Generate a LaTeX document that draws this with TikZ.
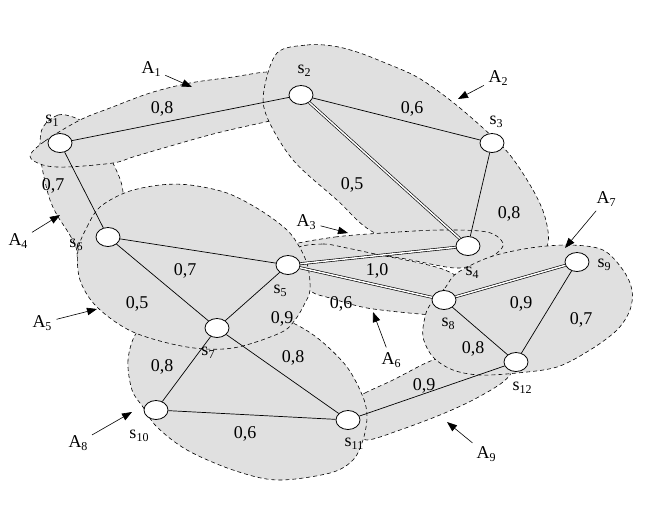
\documentclass[tikz,border=0pt]{standalone}
\usepackage{fontspec}
\setmainfont{Liberation Serif}
\usetikzlibrary{shapes.geometric,arrows.meta}
\newcommand\subsc[1]{\raisebox{-3.5pt}{\fontsize{12}{12}\selectfont #1}}
\begin{document}
\begin{tikzpicture}[x=1pt,y=-1pt,
  vtx/.style={ellipse,draw,fill=white,line width=0.8pt,minimum width=24pt,minimum height=19pt,inner sep=0pt},
  region/.style={draw,dash pattern=on 4pt off 3pt,fill=black!12,line width=0.6pt},
  edge/.style={line width=0.7pt},
  dedge/.style={double,double distance=1.5pt,line width=0.65pt},
  wlab/.style={font=\fontsize{18}{20}\selectfont,inner sep=0pt},
  slab/.style={font=\fontsize{18}{20}\selectfont,inner sep=0pt},
  aarrow/.style={line width=0.6pt,shorten <=5pt,-{Triangle[length=10pt,width=7.5pt]}}]
\useasboundingbox (0,0) rectangle (648,515);
% regions
\path[region] plot[smooth cycle,tension=0.55] coordinates {(43,127) (58,115) (73,117) (84,123) (100,140) (113,163) (123,192) (118,235) (98,262) (80,268) (76,247) (68,232) (57,215) (49,197) (42,167) (40,145)};
\path[region] plot[smooth cycle,tension=0.55] coordinates {(30,156) (45,141) (80,120) (110,108) (150,93) (190,83) (233,77) (267,72) (285,76) (292,100) (285,118) (270,121) (217,133) (167,147) (133,157) (113,163) (67,167) (43,165)};
\path[region] plot[smooth cycle,tension=0.55] coordinates {(277,53) (307,45) (333,46) (357,52) (383,62) (417,77) (450,100) (483,128) (510,155) (533,190) (545,217) (548,243) (535,262) (490,262) (430,250) (373,232) (337,200) (293,160) (267,117) (264,90)};
\path[region] plot[smooth cycle,tension=0.55] coordinates {(290,245) (335,237) (383,233) (440,230) (487,232) (503,243) (497,253) (480,262) (455,268) (400,258) (340,250) (295,250)};
\path[region] plot[smooth cycle,tension=0.5] coordinates {(296,249) (323,244) (347,248) (380,255) (420,263) (445,270) (460,280) (460,300) (440,314) (420,314) (367,308) (330,298) (312,292) (297,275)};
\path[region] plot[smooth cycle,tension=0.5] coordinates {(352,402) (365,393) (393,380) (433,360) (470,352) (510,368) (503,382) (473,400) (440,415) (400,430) (367,440) (352,430)};
\path[region] plot[smooth cycle,tension=0.55] coordinates {(137,332) (128,360) (132,390) (143,407) (157,427) (187,450) (233,470) (277,480) (330,473) (353,460) (363,440) (367,417) (363,397) (347,367) (320,340) (293,323) (260,312) (200,312) (160,318)};
\path[region] plot[smooth cycle,tension=0.55] coordinates {(78,250) (87,227) (100,207) (127,192) (160,185) (190,185) (227,193) (260,210) (287,230) (300,248) (308,267) (310,290) (305,303) (295,320) (280,333) (233,348) (187,347) (133,332) (97,307) (80,280)};
\path[region] plot[smooth cycle,tension=0.55] coordinates {(430,305) (445,288) (457,273) (490,257) (530,248) (570,245) (603,250) (623,270) (632,290) (630,310) (617,330) (590,350) (557,367) (517,373) (480,375) (453,370) (433,357) (423,337) (425,317)};
% vertices
\node[vtx] (s1) at (60,143) {};
\node[vtx] (s2) at (301,95) {};
\node[vtx] (s3) at (492,143) {};
\node[vtx] (s4) at (468,246) {};
\node[vtx] (s5) at (288,265) {};
\node[vtx] (s6) at (108,237) {};
\node[vtx] (s7) at (217,328) {};
\node[vtx] (s8) at (444,300) {};
\node[vtx] (s9) at (577,262) {};
\node[vtx] (s10) at (156,410) {};
\node[vtx] (s11) at (348,420) {};
\node[vtx] (s12) at (516,362) {};
% edges
\draw[edge] (s1) -- (s2);
\draw[edge] (s2) -- (s3);
\draw[edge] (s1) -- (s6);
\draw[dedge] (s2) -- (s4);
\draw[edge] (s3) -- (s4);
\draw[edge] (s6) -- (s5);
\draw[edge] (s6) -- (s7);
\draw[dedge] (s5) -- (s4);
\draw[dedge] (s5) -- (s8);
\draw[edge] (s5) -- (s7);
\draw[dedge] (s8) -- (s9);
\draw[edge] (s9) -- (s12);
\draw[edge] (s8) -- (s12);
\draw[edge] (s7) -- (s11);
\draw[edge] (s7) -- (s10);
\draw[edge] (s11) -- (s12);
\draw[edge] (s10) -- (s11);
% vertex labels
\node[slab] (l1) at (52,121) {s\subsc{1}};
\node[slab] (l2) at (304,71) {s\subsc{2}};
\node[slab] (l3) at (496,122) {s\subsc{3}};
\node[slab] (l4) at (472,273) {s\subsc{4}};
\node[slab] (l5) at (280,291) {s\subsc{5}};
\node[slab] (l6) at (76,245) {s\subsc{6}};
\node[slab] (l7) at (208,353) {s\subsc{7}};
\node[slab] (l8) at (448,324) {s\subsc{8}};
\node[slab] (l9) at (604,265) {s\subsc{9}};
\node[slab] (l10) at (139,436) {s\subsc{10}};
\node[slab] (l11) at (354,444) {s\subsc{11}};
\node[slab] (l12) at (522,388) {s\subsc{12}};
% weights
\node[wlab] (w12) at (162,109) {0,8};
\node[wlab] (w23) at (412,109) {0,6};
\node[wlab] (w16) at (53,186) {0,7};
\node[wlab] (w24) at (352,185) {0,5};
\node[wlab] (w34) at (509,214) {0,8};
\node[wlab] (w65) at (185,271) {0,7};
\node[wlab] (w67) at (137,304) {0,5};
\node[wlab] (w54) at (377,271) {1,0};
\node[wlab] (w58) at (341,304) {0,6};
\node[wlab] (w57) at (282,319) {0,9};
\node[wlab] (w89) at (521,304) {0,9};
\node[wlab] (w912) at (581,320) {0,7};
\node[wlab] (w812) at (473,349) {0,8};
\node[wlab] (w711) at (293,358) {0,8};
\node[wlab] (w710) at (162,367) {0,8};
\node[wlab] (w1112) at (424,386) {0,9};
\node[wlab] (w1011) at (245,434) {0,6};
% area labels
\node[slab] (A1) at (151,69) {A\subsc{1}};
\node[slab] (A2) at (498,78) {A\subsc{2}};
\node[slab] (A3) at (306,222) {A\subsc{3}};
\node[slab] (A4) at (18,241) {A\subsc{4}};
\node[slab] (A5) at (42,323) {A\subsc{5}};
\node[slab] (A6) at (391,360) {A\subsc{6}};
\node[slab] (A7) at (606,199) {A\subsc{7}};
\node[slab] (A8) at (78,443) {A\subsc{8}};
\node[slab] (A9) at (486,454) {A\subsc{9}};
\coordinate (t1) at (192,87);
\coordinate (t2) at (458,99);
\coordinate (t3) at (348,233);
\coordinate (t4) at (60,215);
\coordinate (t5) at (97,309);
\coordinate (t6) at (373,312);
\coordinate (t7) at (565,248);
\coordinate (t8) at (132,412);
\coordinate (t9) at (447,422);
\draw[aarrow] (A1) -- (t1);
\draw[aarrow] (A2) -- (t2);
\draw[aarrow] (A3) -- (t3);
\draw[aarrow] (A4) -- (t4);
\draw[aarrow] (A5) -- (t5);
\draw[aarrow] (A6) -- (t6);
\draw[aarrow] (A7) -- (t7);
\draw[aarrow] (A8) -- (t8);
\draw[aarrow] (A9) -- (t9);
\end{tikzpicture}
\end{document}
